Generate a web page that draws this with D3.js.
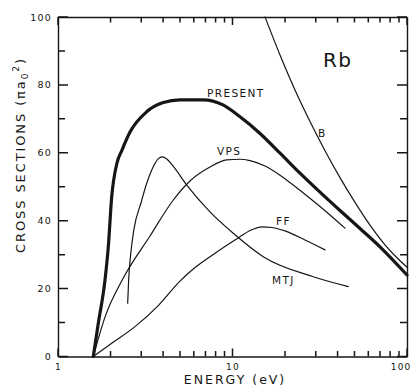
<!DOCTYPE html>
<html>
<head>
<meta charset="utf-8">
<script src="https://cdn.jsdelivr.net/npm/d3@7"></script>
<style>
  html, body { margin: 0; padding: 0; background: #fff; }
  svg { display: block; font-family: "DejaVu Sans", sans-serif; }
</style>
</head>
<body>
<svg id="chart" width="411" height="391"></svg>
<script>
// Rb total ionization cross sections (units of pi a0^2) against electron energy (eV)
const presentE = [1.593, 1.702, 1.859, 1.942, 2.031, 2.178, 2.327, 2.586, 3.223, 4.012, 5.0, 6.8, 8.82, 11.04, 14.38, 18.72, 24.37, 31.72, 41.3, 53.8, 70, 100];
const presentS = [0, 9.8, 22.5, 32.3, 47.0, 57.0, 60.8, 66.1, 72.1, 74.8, 75.6, 75.6, 74.1, 70.6, 65.7, 59.9, 54.0, 48.4, 43.0, 37.7, 32.3, 24.0];

const bE = [15.36, 18.72, 22.81, 27.81, 33.89, 41.3, 50.35, 61.38, 74.79, 91.19, 100];
const bS = [100, 88.8, 78.5, 69.2, 60.6, 52.7, 45.4, 38.7, 32.9, 28.2, 26.3];

const vpsE = [1.593, 1.859, 2.367, 3.367, 4.579, 5.706, 7.43, 9.264, 11.04, 12.6, 15.36, 18.72, 23.33, 29.04, 36.2, 44.13];
const vpsS = [0, 11.6, 23.1, 35.5, 46.1, 51.7, 55.8, 57.9, 58.1, 57.7, 56.1, 53.4, 49.7, 45.8, 41.7, 37.8];

const ffE = [1.593, 2.031, 2.762, 3.757, 5.0, 6.097, 7.43, 11.04, 12.6, 14.76, 16.84, 19.99, 26.03, 33.9];
const ffS = [0, 3.9, 8.8, 15.0, 22.2, 26.2, 29.4, 35.3, 37.1, 38.2, 38.0, 37.0, 34.3, 31.4];

const mtjE = [2.508, 2.54, 2.62, 2.72, 3.0, 3.2, 3.45, 3.75, 3.95, 4.2, 4.5, 5.47, 7.43, 10.1, 15.0, 29.0, 46.1];
const mtjS = [15.7, 22.5, 31, 37.3, 45.5, 50.5, 55, 58.2, 58.8, 58.2, 56.5, 50.5, 42.6, 36.3, 29.4, 23.5, 20.6];

const seriesNames = ["PRESENT", "B", "VPS", "FF", "MTJ"];
// label anchor points (energy, cross section)
const labelE = [7.14, 30.9, 8.15, 17.76, 16.84];
const labelS = [76.4, 64.7, 59.4, 38.7, 21.4];

const elementName = "Rb";
const elementE = 33.0, elementS = 85.3;

const yMajor = [0, 20, 40, 60, 80, 100];
const yMinor = [10, 30, 50, 70, 90];
const xMajor = [1, 10, 100];
const xTickLabels = ["1", "10", "100"];
const xMinor = [2, 3, 4, 5, 6, 7, 8, 9, 20, 30, 40, 50, 60, 70, 80, 90];

const ink = "#161616";
const svg = d3.select("#chart");

const x = d3.scaleLog().domain([1, 100]).range([58, 407]);
const y = d3.scaleLinear().domain([0, 100]).range([356.5, 17]);

function finish(g, size) {
  g.select(".domain").attr("stroke", ink).attr("stroke-width", 1.4);
  g.selectAll(".tick line").remove();
  g.selectAll(".tick text").attr("fill", ink)
    .attr("font-family", "DejaVu Sans, sans-serif")
    .attr("font-size", size).attr("letter-spacing", 1.2);
  g.attr("font-family", null).attr("font-size", null);
}

// frame and tick labels
svg.append("g").attr("transform", `translate(${x(1)},0)`)
  .call(d3.axisLeft(y).tickValues(yMajor).tickSize(0).tickPadding(6).tickFormat(d => d))
  .call(g => finish(g, 9.5));
svg.append("g").attr("transform", `translate(${x(100)},0)`)
  .call(d3.axisRight(y).tickValues([]).tickSize(0))
  .call(g => finish(g, 9.5));
const bottom = svg.append("g").attr("transform", `translate(0,${y(0)})`)
  .call(d3.axisBottom(x).tickValues(xMajor).tickSize(0).tickPadding(7)
    .tickFormat((d, i) => xTickLabels[i]))
  .call(g => finish(g, 9));
bottom.selectAll(".tick text").filter(d => d === 100)
  .attr("text-anchor", "end").attr("x", 411 - x(100));
svg.append("g").attr("transform", `translate(0,${y(100)})`)
  .call(d3.axisTop(x).tickValues([]).tickSize(0))
  .call(g => finish(g, 9));

// inward tick marks on all four sides, drawn as one path
const yTicks = yMajor.map(v => ({ v, len: 10 })).concat(yMinor.map(v => ({ v, len: 7 })));
const xTicks = xMajor.map(v => ({ v, len: 8 })).concat(xMinor.map(v => ({ v, len: 5.5 })));
const tp = d3.path();
yTicks.forEach(t => {
  tp.moveTo(x(1), y(t.v)); tp.lineTo(x(1) + t.len, y(t.v));
  tp.moveTo(x(100), y(t.v)); tp.lineTo(x(100) - t.len, y(t.v));
});
xTicks.forEach(t => {
  tp.moveTo(x(t.v), y(0)); tp.lineTo(x(t.v), y(0) - t.len);
  tp.moveTo(x(t.v), y(100)); tp.lineTo(x(t.v), y(100) + t.len);
});
svg.append("path")
  .attr("d", tp.toString())
  .attr("fill", "none")
  .attr("stroke", ink)
  .attr("stroke-width", 1.5);

// curves
const line = d3.line()
  .x(d => x(d[0]))
  .y(d => y(d[1]))
  .curve(d3.curveMonotoneX);

const curves = [
  { e: presentE, s: presentS, w: 3.2 },
  { e: bE, s: bS, w: 1.2 },
  { e: vpsE, s: vpsS, w: 1.2 },
  { e: ffE, s: ffS, w: 1.2 },
  { e: mtjE, s: mtjS, w: 1.2 }
];

svg.append("g").selectAll("path")
  .data(curves)
  .join("path")
  .attr("d", c => line(c.e.map((v, i) => [v, c.s[i]])))
  .attr("fill", "none")
  .attr("stroke", ink)
  .attr("stroke-width", c => c.w)
  .attr("stroke-linejoin", "round")
  .attr("stroke-linecap", "round");

// curve labels
svg.append("g").selectAll("text")
  .data(seriesNames)
  .join("text")
  .attr("x", (d, i) => x(labelE[i]))
  .attr("y", (d, i) => y(labelS[i]))
  .attr("font-size", 10.5)
  .attr("letter-spacing", 1.4)
  .attr("fill", ink)
  .text(d => d);

// element symbol
svg.append("text")
  .attr("x", x(elementE))
  .attr("y", y(elementS))
  .attr("font-size", 20)
  .attr("letter-spacing", 1.5)
  .attr("fill", ink)
  .text(elementName);

// axis titles
svg.append("text")
  .attr("x", 235)
  .attr("y", 384)
  .attr("text-anchor", "middle")
  .attr("font-size", 12.5)
  .attr("letter-spacing", 2)
  .attr("fill", ink)
  .text("ENERGY (eV)");

const yTitle = svg.append("text")
  .attr("transform", "translate(25,155) rotate(-90)")
  .attr("text-anchor", "middle")
  .attr("font-size", 13)
  .attr("letter-spacing", 1.9)
  .attr("fill", ink);
yTitle.append("tspan").text("CROSS SECTIONS (\u03c0a");
yTitle.append("tspan").attr("font-size", 9).attr("dy", "0.3em").text("0");
yTitle.append("tspan").attr("font-size", 9).attr("dy", "-0.95em").text("2");
yTitle.append("tspan").attr("dy", "0.45em").text(")");
</script>
</body>
</html>
